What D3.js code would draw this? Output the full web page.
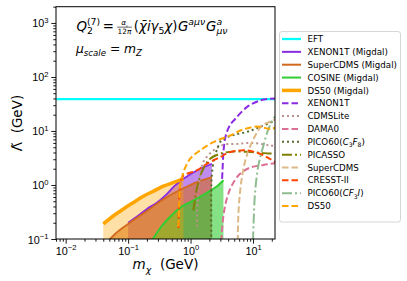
<!DOCTYPE html>
<html>
<head>
<meta charset="utf-8">
<script src="https://cdn.jsdelivr.net/npm/d3@7"></script>
<style>
  body { margin: 0; background: #fff; }
  svg { display: block; font-family: "DejaVu Sans", sans-serif; }
  text { white-space: pre; }
</style>
</head>
<body>
<div id="chart"></div>
<script>
// ---- values: [m_chi (GeV), Lambda-tilde (GeV)] ----
const eftLambda = 39;

const xenon1tMigdal = [[0.1,0.2],[0.15,0.28],[0.2,0.36],[0.288,0.47],[0.4,0.65],[0.55,0.95],[0.77,1.3],[1.26,1.86],[2.2,2.47]];
const superCdmsMigdal = [[0.045,0.085],[0.06,0.12],[0.1,0.19],[0.2,0.33],[0.4,0.58],[0.77,0.87],[1.26,1.13],[2.2,1.4]];
const cosineMigdal = [[0.23,0.085],[0.25,0.1],[0.325,0.158],[0.47,0.258],[0.68,0.38],[0.98,0.48],[1.26,0.56],[2.2,0.82],[2.8,1.0],[3.36,1.22]];
const ds50Migdal = [[0.04,0.19],[0.06,0.275],[0.084,0.36],[0.12,0.47],[0.175,0.62],[0.26,0.78],[0.367,0.95],[0.55,1.13],[0.77,1.3]];

const xenon1t = [[3.2,1.3],[3.25,1.9],[3.36,4.06],[3.55,7.0],[3.81,9.5],[4.3,13],[5.18,16.7],[7.95,27.6],[12.9,36.6],[18.6,39.5],[24,40]];
const cdmsLite = [[1.26,0.17],[1.3,0.5],[1.36,1.0],[1.6,2.65],[2.32,4.36],[3.36,5.53],[5.5,5.76],[10.2,6.0],[18.6,5.4],[24,5.2]];
const dama0 = [[3.1,0.09],[3.36,0.27],[3.81,0.56],[4.57,0.98],[6.2,1.61],[9.0,2.1],[14.7,2.35],[24,2.55]];
const pico60C3F8 = [[2.15,0.09],[2.15,1.0],[2.2,1.6],[2.4,3.2],[2.63,4.4],[3.17,6.8],[4.85,8.4],[7.95,9.6],[12.9,11.9],[24,16]];
const picasso = [[1.11,0.34],[1.18,0.55],[1.26,0.85],[1.51,1.73],[2.06,3.05],[2.97,3.78],[4.85,4.18],[9.0,4.06],[14.7,3.89],[24,3.78]];
const superCdms = [[5.7,0.09],[5.83,0.29],[6.2,0.74],[6.87,1.73],[7.95,3.53],[10.2,7.14],[13.9,12.6],[18.6,14.8],[24,16.8]];
const cresst2 = [[0.64,0.16],[0.66,0.6],[0.7,1.2],[0.77,1.5],[1.26,1.86],[1.82,2.47],[2.97,3.28],[4.3,4.06],[7.95,4.36],[12.9,3.78],[18.6,3.05],[24,2.6]];
const pico60CF3I = [[10.0,0.09],[10.2,0.19],[10.8,0.74],[12.2,2.3],[14.7,5.4],[17.7,10.9],[21.2,16.7],[24,20]];
const ds50 = [[0.638,0.17],[0.66,0.5],[0.68,0.98],[0.77,1.73],[0.98,3.05],[1.42,4.36],[2.32,6.2],[4.3,8.26],[7.03,10.7],[11.5,12.1],[16,11.3],[18.8,10.9],[24,11.7]];

const xDomain = [0.007, 22.5];
const yDomain = [0.1, 2000];
const xTickExp = [-2, -1, 0, 1];
const yTickExp = [-1, 0, 1, 2, 3];

// ---- layout ----
const width = 407, height = 281;
const plot = { left: 56, right: 275, top: 6.7, bottom: 239 };

const svg = d3.select("#chart").append("svg")
  .attr("width", width)
  .attr("height", height);

const x = d3.scaleLog().domain(xDomain).range([plot.left, plot.right]);
const y = d3.scaleLog().domain(yDomain).range([plot.bottom, plot.top]);

svg.append("clipPath").attr("id", "clip")
  .append("rect")
  .attr("x", plot.left).attr("y", plot.top)
  .attr("width", plot.right - plot.left).attr("height", plot.bottom - plot.top);

const body = svg.append("g").attr("clip-path", "url(#clip)");

const DASH = "6.5,3", DOT = "2,3", DASHDOT = "10,3,2,3";

// Migdal bands: filled down to the floor
const migdal = [
  { data: xenon1tMigdal, color: "#8a2be2", alpha: 0.55, w: 1.8 },
  { data: superCdmsMigdal, color: "#d2691e", alpha: 0.6, w: 1.8 },
  { data: cosineMigdal, color: "#32cd32", alpha: 0.6, w: 2 },
  { data: ds50Migdal, color: "#ffa500", alpha: 0.35, w: 3.5 }
];

const area = d3.area()
  .x(d => x(d[0]))
  .y0(plot.bottom)
  .y1(d => y(d[1]))
  .curve(d3.curveMonotoneX);

const smooth = d3.line()
  .x(d => x(d[0]))
  .y(d => y(d[1]))
  .curve(d3.curveMonotoneX);

migdal.forEach(s => {
  body.append("path").datum(s.data)
    .attr("fill", s.color).attr("fill-opacity", s.alpha)
    .attr("d", area);
});
migdal.forEach(s => {
  body.append("path").datum(s.data)
    .attr("fill", "none").attr("stroke", s.color)
    .attr("stroke-width", s.w)
    .attr("d", smooth);
});

// EFT line
body.append("path")
  .datum(xDomain.map(m => [m, eftLambda]))
  .attr("fill", "none").attr("stroke", "#00ffff").attr("stroke-width", 2.3)
  .attr("d", d3.line().x(d => x(d[0])).y(d => y(d[1])));

// direct-detection limits
const curved = d3.line()
  .x(d => x(d[0]))
  .y(d => y(d[1]))
  .curve(d3.curveCatmullRom.alpha(0.5));

const limits = [
  { data: xenon1t, color: "#8a2be2", dash: DASH },
  { data: cdmsLite, color: "#bc8f8f", dash: DOT },
  { data: dama0, color: "#db7093", dash: DASH },
  { data: pico60C3F8, color: "#556b2f", dash: DOT },
  { data: picasso, color: "#808000", dash: DASHDOT },
  { data: superCdms, color: "#deb887", dash: DASH },
  { data: cresst2, color: "#ff4500", dash: DASH },
  { data: pico60CF3I, color: "#8fbc8f", dash: DASHDOT },
  { data: ds50, color: "#ffa500", dash: DASH }
];

limits.forEach(s => {
  body.append("path").datum(s.data)
    .attr("fill", "none").attr("stroke", s.color)
    .attr("stroke-width", 2).attr("stroke-dasharray", s.dash)
    .attr("d", curved);
});

// ---- axes ----
const isMajor = v => Math.abs(Math.log10(v) - Math.round(Math.log10(v))) < 1e-9;

function axis(gen, scale, exps, minor, transform) {
  const major = exps.map(e => Math.pow(10, e));
  const g = svg.append("g").attr("transform", transform);
  g.append("g").call(gen(scale).tickValues(minor).tickSize(2.7).tickFormat(() => ""));
  const gMaj = g.append("g").call(gen(scale).tickValues(major).tickSize(4.7).tickFormat(() => ""));
  g.selectAll(".domain").remove();
  g.selectAll(".tick line").attr("stroke", "#000").attr("stroke-width", 0.9);
  g.selectAll(".tick text").remove();
  return gMaj;
}

const xMinor = x.ticks().filter(v => !isMajor(v));
const yMinor = y.ticks().filter(v => !isMajor(v));

const gx = axis(d3.axisBottom, x, xTickExp, xMinor, `translate(0,${plot.bottom})`);
gx.selectAll(".tick").each(function(d, i) {
  const t = d3.select(this).append("text")
    .attr("y", 16).attr("text-anchor", "middle")
    .attr("fill", "#000").attr("font-size", 10.8);
  t.append("tspan").text("10");
  t.append("tspan").attr("dy", -4.6).attr("font-size", 7.6)
    .text(String(xTickExp[i]).replace("-", "\u2212"));
});

const gy = axis(d3.axisLeft, y, yTickExp, yMinor, `translate(${plot.left},0)`);
gy.selectAll(".tick").each(function(d, i) {
  const t = d3.select(this).append("text")
    .attr("x", -7.5).attr("y", 4).attr("text-anchor", "end")
    .attr("fill", "#000").attr("font-size", 10.8);
  t.append("tspan").text("10");
  t.append("tspan").attr("dy", -4.6).attr("font-size", 7.6)
    .text(String(yTickExp[i]).replace("-", "\u2212"));
});

// frame
svg.append("rect")
  .attr("x", plot.left).attr("y", plot.top)
  .attr("width", plot.right - plot.left).attr("height", plot.bottom - plot.top)
  .attr("fill", "none").attr("stroke", "#000").attr("stroke-width", 1);

// ---- rich text helper: segments [text, kind] with kind in "", i, sub, sup, isub, isup ----
function addSegs(text, segs, fs) {
  let shift = 0;
  segs.forEach(seg => {
    const [t, k = ""] = Array.isArray(seg) ? seg : [seg];
    const target = k.endsWith("sub") ? fs * 0.28 : k.endsWith("sup") ? -fs * 0.42 : 0;
    const ts = text.append("tspan").text(t).attr("dy", target - shift);
    if (k.endsWith("sub") || k.endsWith("sup")) ts.attr("font-size", fs * 0.7);
    if (k.startsWith("i")) ts.attr("font-style", "italic");
    shift = target;
  });
}

// axis labels
const xl = svg.append("text").attr("x", 165.5).attr("y", 269)
  .attr("text-anchor", "middle").attr("font-size", 13.5).attr("fill", "#000");
addSegs(xl, [["m", "i"], ["\u03c7", "isub"], ["  (GeV)"]], 13.5);

const yl = svg.append("text")
  .attr("transform", "translate(21.5,123) rotate(-90)")
  .attr("text-anchor", "middle").attr("font-size", 13.5).attr("fill", "#000");
addSegs(yl, [["\u039b\u0303"], ["  (GeV)"]], 13.5);

// ---- annotation (cursor based math layout) ----
function drawMath(x0, y0, items, F) {
  let cx = x0, held = 0;
  items.forEach(it => {
    let w;
    if (it.frac) {
      const fs = F * 0.55;
      const num = svg.append("text").attr("font-size", fs).attr("fill", "#000")
        .attr("y", y0 - F * 0.42);
      addSegs(num, it.num, fs * 0.6);
      const den = svg.append("text").attr("font-size", fs).attr("fill", "#000")
        .attr("y", y0 + F * 0.2);
      addSegs(den, it.den, fs);
      const wn = num.node().getComputedTextLength();
      const wd = den.node().getComputedTextLength();
      w = Math.max(wn, wd) + 2;
      num.attr("x", cx + (w - wn) / 2);
      den.attr("x", cx + (w - wd) / 2);
      svg.append("line")
        .attr("x1", cx + 0.5).attr("x2", cx + w - 0.5)
        .attr("y1", y0 - F * 0.29).attr("y2", y0 - F * 0.29)
        .attr("stroke", "#000").attr("stroke-width", 0.6);
      w += 1.5;
    } else {
      const k = it.k || "";
      const small = k.endsWith("sub") || k.endsWith("sup");
      const dy = k.endsWith("sub") ? F * 0.26 : k.endsWith("sup") ? -F * 0.45 : 0;
      const t = svg.append("text").attr("x", cx).attr("y", y0 + dy)
        .attr("font-size", small ? F * 0.7 : F).attr("fill", "#000")
        .attr("font-style", k.startsWith("i") ? "italic" : "normal")
        .text(it.t);
      w = t.node().getComputedTextLength() + (it.pad || 0);
    }
    if (it.hold) { held = Math.max(held, w); return; }
    cx += Math.max(w, held);
    held = 0;
  });
}

drawMath(76.5, 31, [
  { t: "Q", k: "i" }, { t: "(7)", k: "sup", hold: true }, { t: "2", k: "sub", pad: 1 },
  { t: "\u2009=\u2009" },
  { frac: true, num: [["\u03b1", "i"], ["s", "isub"]], den: [["12"], ["\u03c0", "i"]] },
  { t: "(" }, { t: "\u03c7\u0304", k: "i" }, { t: "i", k: "i" }, { t: "\u03b3", k: "i" },
  { t: "5", k: "sub" }, { t: "\u03c7", k: "i" }, { t: ")", pad: 0.5 },
  { t: "G", k: "i" }, { t: "a\u03bc\u03bd", k: "isup", pad: 1 },
  { t: "G", k: "i" }, { t: "a", k: "isup", hold: true }, { t: "\u03bc\u03bd", k: "isub" }
], 13.3);

drawMath(76, 52.5, [
  { t: "\u03bc", k: "i" }, { t: "scale", k: "isub" }, { t: " = " },
  { t: "m", k: "i" }, { t: "Z", k: "isub" }
], 12.3);

// ---- legend ----
const legendRows = [
  { label: ["EFT"], color: "#00ffff", w: 2.3 },
  { label: ["XENON1T (Migdal)"], color: "#8a2be2", w: 2 },
  { label: ["SuperCDMS (Migdal)"], color: "#d2691e", w: 2 },
  { label: ["COSINE (Migdal)"], color: "#32cd32", w: 2 },
  { label: ["DS50 (Migdal)"], color: "#ffa500", w: 3.5 },
  { label: ["XENON1T"], color: "#8a2be2", dash: DASH },
  { label: ["CDMSLite"], color: "#bc8f8f", dash: DOT },
  { label: ["DAMA0"], color: "#db7093", dash: DASH },
  { label: ["PICO60(", ["C", "i"], ["3", "sub"], ["F", "i"], ["8", "sub"], [")"]], color: "#556b2f", dash: DOT },
  { label: ["PICASSO"], color: "#808000", dash: DASHDOT },
  { label: ["SuperCDMS"], color: "#deb887", dash: DASH },
  { label: ["CRESST-II"], color: "#ff4500", dash: DASH },
  { label: ["PICO60(", ["CF", "i"], ["3", "sub"], ["I", "i"], [")"]], color: "#8fbc8f", dash: DASHDOT },
  { label: ["DS50"], color: "#ffa500", dash: DASH }
];

const leg = svg.append("g");
leg.append("rect")
  .attr("x", 279.5).attr("y", 31.5).attr("width", 121).attr("height", 190.5)
  .attr("rx", 2.5)
  .attr("fill", "#fff").attr("fill-opacity", 0.8)
  .attr("stroke", "#cccccc").attr("stroke-width", 0.8);

legendRows.forEach((r, i) => {
  const ry = 39 + i * 12.85;
  leg.append("line")
    .attr("x1", 282).attr("x2", 301).attr("y1", ry).attr("y2", ry)
    .attr("stroke", r.color).attr("stroke-width", r.w || 2)
    .attr("stroke-dasharray", r.dash || null);
  const t = leg.append("text").attr("x", 307.5).attr("y", ry + 3.1)
    .attr("font-size", 8.7).attr("fill", "#000");
  addSegs(t, r.label, 8.7);
});
</script>
</body>
</html>
